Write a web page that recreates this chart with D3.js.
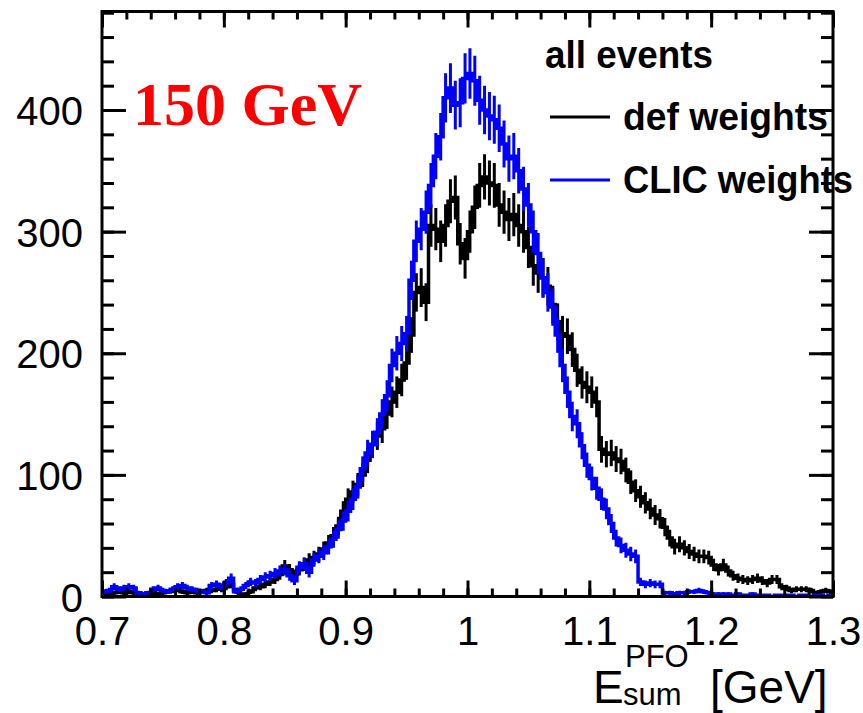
<!DOCTYPE html>
<html>
<head>
<meta charset="utf-8">
<script src="https://cdn.jsdelivr.net/npm/d3@7/dist/d3.min.js"></script>
<style>
  body { margin: 0; background: #fff; }
  svg { display: block; }
</style>
</head>
<body>
<div id="chart"></div>
<script>
// histogram binning: 150 bins of 0.004 from 0.7 to 1.3
const xLow = 0.7;
const binWidth = 0.004;

// "def weights" bin contents (black)
const defWeights = [
  1, 2, 3, 4, 3, 4, 3, 2, 1, 2,
  3, 2, 3, 4, 5, 6, 4, 3, 4, 3,
  4, 5, 5, 6, 6, 8, 10, 5, 2, 2,
  4, 7, 8, 10, 12, 14, 18, 25, 22, 18,
  22, 26, 30, 32, 35, 39, 44, 50, 58, 70,
  80, 86, 92, 100, 112, 125, 132, 138, 150, 160,
  168, 178, 192, 215, 250, 254, 242, 305, 302, 292,
  305, 325, 328, 290, 278, 300, 320, 338, 345, 340,
  338, 322, 316, 310, 314, 305, 300, 287, 272, 266,
  262, 255, 240, 226, 216, 214, 203, 186, 176, 172,
  168, 160, 121, 117, 118, 113, 111, 104, 94, 87,
  82, 77, 72, 67, 64, 57, 48, 41, 43, 40,
  37, 35, 33, 33, 32, 26, 22, 26, 21, 17,
  15, 14, 13, 14, 15, 13, 11, 14, 14, 8,
  7, 5, 6, 6, 6, 5, 3, 4, 5, 4
];

// "CLIC weights" bin contents (blue)
const clicWeights = [
  4, 5, 8, 6, 7, 8, 7, 3, 2, 3,
  6, 7, 5, 4, 6, 8, 9, 7, 6, 5,
  4, 3, 9, 10, 8, 11, 15, 4, 6, 9,
  12, 11, 14, 16, 17, 19, 21, 22, 17, 13,
  24, 27, 20, 30, 33, 36, 41, 47, 55, 62,
  70, 80, 90, 105, 118, 125, 135, 150, 165, 190,
  200, 208, 216, 260, 292, 302, 316, 338, 362, 378,
  410, 418, 404, 406, 426, 430, 424, 408, 400, 395,
  392, 385, 372, 360, 362, 350, 335, 322, 300, 282,
  262, 250, 238, 215, 190, 168, 148, 142, 124, 108,
  97, 89, 80, 72, 60, 48, 42, 38, 35, 33,
  12, 10, 11, 10, 10, 3, 3, 2, 3, 3,
  4, 4, 5, 4, 3, 2, 2, 2, 2, 1,
  2, 1, 1, 2, 1, 1, 1, 0, 1, 1,
  1, 1, 0, 1, 1, 0, 1, 1, 0, 1
];

const xTicks = [0.7, 0.8, 0.9, 1.0, 1.1, 1.2, 1.3];
const xTickLabels = ["0.7", "0.8", "0.9", "1", "1.1", "1.2", "1.3"];
const yTicks = [0, 100, 200, 300, 400];
const yTickLabels = ["0", "100", "200", "300", "400"];
const xDomain = [0.7, 1.3];
const yDomain = [0, 481];

const legendEntries = [
  {label: "def weights", color: "#000000", data: defWeights},
  {label: "CLIC weights", color: "#0000ff", data: clicWeights}
];

// layout
const W = 863, H = 713;
const frame = {left: 102, right: 833, top: 11.5, bottom: 596.5};

const svg = d3.select("#chart").append("svg")
  .attr("width", W)
  .attr("height", H);

svg.append("rect").attr("width", W).attr("height", H).attr("fill", "#fff");

const x = d3.scaleLinear().domain(xDomain).range([frame.left, frame.right]);
const y = d3.scaleLinear().domain(yDomain).range([frame.bottom, frame.top]);

svg.append("clipPath").attr("id", "frameClip")
  .append("rect")
  .attr("x", frame.left).attr("y", frame.top)
  .attr("width", frame.right - frame.left)
  .attr("height", frame.bottom - frame.top);

const plot = svg.append("g").attr("clip-path", "url(#frameClip)");

// draw one histogram: steps + sqrt(N) error bars
function drawHist(values, color) {
  let pts = [];
  values.forEach((v, i) => {
    let x0 = xLow + i * binWidth;
    pts.push([x(x0), y(v)]);
    pts.push([x(x0 + binWidth), y(v)]);
  });
  plot.append("path")
    .attr("d", d3.line()(pts))
    .attr("fill", "none")
    .attr("stroke", color)
    .attr("stroke-width", 3.5);

  plot.append("g").selectAll("line")
    .data(values.map((v, i) => ({v: v, c: xLow + (i + 0.5) * binWidth})).filter(d => d.v > 0))
    .enter().append("line")
    .attr("x1", d => x(d.c)).attr("x2", d => x(d.c))
    .attr("y1", d => y(d.v - Math.sqrt(d.v)))
    .attr("y2", d => y(d.v + Math.sqrt(d.v)))
    .attr("stroke", color)
    .attr("stroke-width", 3);
}

legendEntries.forEach(e => drawHist(e.data, e.color));

// axes (ROOT style ticks pointing into the frame)
const xMinor = d3.range(0, 31).map(i => 0.7 + i * 0.02);
const yMinor = d3.range(0, 25).map(i => i * 20);

function styleAxis(g) {
  g.select(".domain").remove();
  g.selectAll(".tick line").attr("stroke", "#000").attr("stroke-width", 3);
}

svg.append("g")
  .attr("transform", `translate(0,${frame.bottom})`)
  .call(d3.axisBottom(x).tickValues(xMinor).tickSize(-8).tickFormat(""))
  .call(styleAxis);
svg.append("g")
  .attr("transform", `translate(0,${frame.top})`)
  .call(d3.axisTop(x).tickValues(xMinor).tickSize(-8).tickFormat(""))
  .call(styleAxis);
svg.append("g")
  .attr("transform", `translate(0,${frame.top})`)
  .call(d3.axisTop(x).tickValues(xTicks).tickSize(-16).tickFormat(""))
  .call(styleAxis);

const xAxis = svg.append("g")
  .attr("transform", `translate(0,${frame.bottom})`)
  .call(d3.axisBottom(x).tickValues(xTicks).tickSize(-16)
    .tickFormat((d, i) => xTickLabels[i]))
  .call(styleAxis);
xAxis.selectAll("text")
  .attr("y", 48.5).attr("dy", 0)
  .attr("font-family", "'Liberation Sans', Arial, sans-serif")
  .attr("font-size", 40)
  .attr("fill", "#000");

svg.append("g")
  .attr("transform", `translate(${frame.left},0)`)
  .call(d3.axisLeft(y).tickValues(yMinor).tickSize(-12).tickFormat(""))
  .call(styleAxis);
svg.append("g")
  .attr("transform", `translate(${frame.right},0)`)
  .call(d3.axisRight(y).tickValues(yMinor).tickSize(-12).tickFormat(""))
  .call(styleAxis);
svg.append("g")
  .attr("transform", `translate(${frame.right},0)`)
  .call(d3.axisRight(y).tickValues(yTicks).tickSize(-24).tickFormat(""))
  .call(styleAxis);

const yAxis = svg.append("g")
  .attr("transform", `translate(${frame.left},0)`)
  .call(d3.axisLeft(y).tickValues(yTicks).tickSize(-24)
    .tickFormat((d, i) => yTickLabels[i]))
  .call(styleAxis);
yAxis.selectAll("text")
  .attr("x", -19).attr("y", 14.5).attr("dy", 0)
  .attr("font-family", "'Liberation Sans', Arial, sans-serif")
  .attr("font-size", 40)
  .attr("fill", "#000");

// frame
svg.append("rect")
  .attr("x", frame.left).attr("y", frame.top)
  .attr("width", frame.right - frame.left)
  .attr("height", frame.bottom - frame.top)
  .attr("fill", "none")
  .attr("stroke", "#000")
  .attr("stroke-width", 3);

// x axis title: E^{PFO}_{sum} [GeV]
const sans = "'Liberation Sans', Arial, sans-serif";
const title = svg.append("g").attr("font-family", sans).attr("fill", "#000");
title.append("text").attr("x", 593).attr("y", 703).attr("font-size", 46).text("E");
title.append("text").attr("x", 625).attr("y", 667).attr("font-size", 31).text("PFO");
title.append("text").attr("x", 623).attr("y", 705).attr("font-size", 31).text("sum");
title.append("text").attr("x", 710).attr("y", 703).attr("font-size", 46).text("[GeV]");

// energy label
svg.append("text")
  .attr("x", 133).attr("y", 125)
  .attr("font-family", "'Liberation Serif', 'Times New Roman', serif")
  .attr("font-weight", "bold")
  .attr("font-size", 62)
  .attr("fill", "#ff0000")
  .text("150 GeV");

// legend
const legend = svg.append("g")
  .attr("font-family", sans)
  .attr("font-weight", "bold")
  .attr("font-size", 38)
  .attr("fill", "#000");

legend.append("text")
  .attr("x", 545).attr("y", 68)
  .attr("textLength", 168).attr("lengthAdjust", "spacingAndGlyphs")
  .text("all events");

const legendWidths = [205, 230];
legendEntries.forEach((e, i) => {
  let ly = 117 + i * 63;
  legend.append("line")
    .attr("x1", 550).attr("x2", 610)
    .attr("y1", ly).attr("y2", ly)
    .attr("stroke", e.color)
    .attr("stroke-width", 3);
  legend.append("text")
    .attr("x", 623).attr("y", ly + 13)
    .attr("textLength", legendWidths[i]).attr("lengthAdjust", "spacingAndGlyphs")
    .text(e.label);
});
</script>
</body>
</html>
